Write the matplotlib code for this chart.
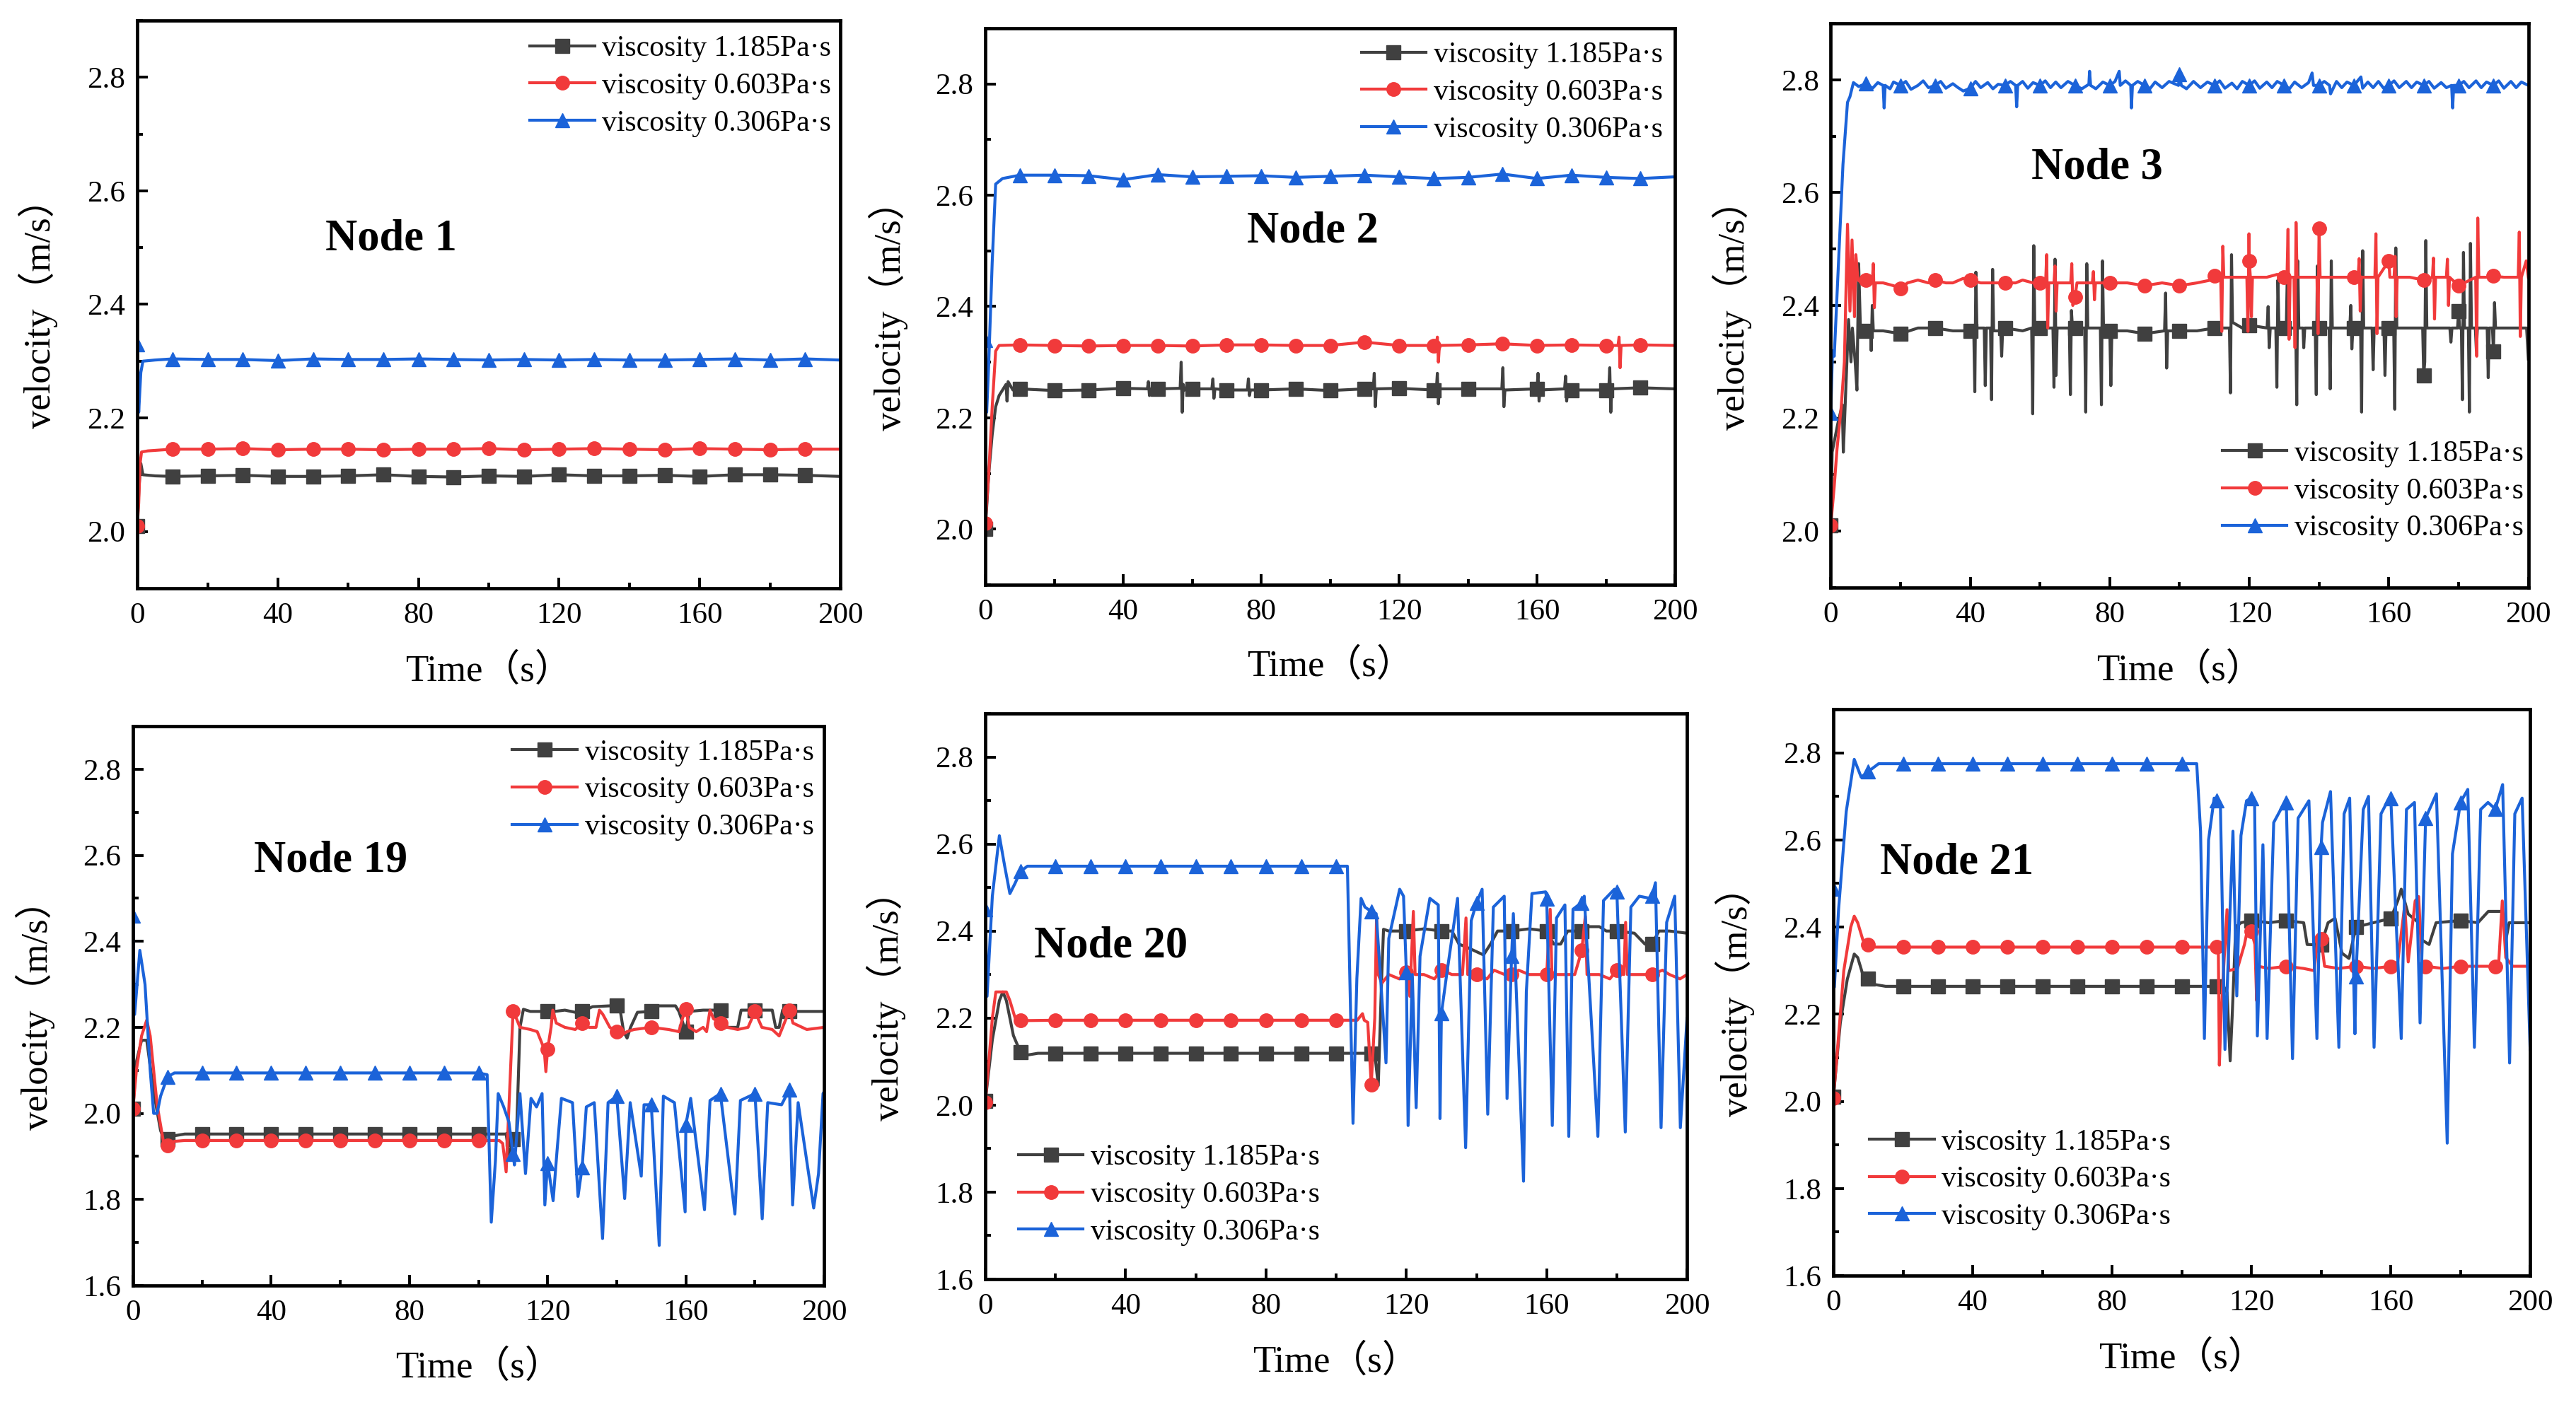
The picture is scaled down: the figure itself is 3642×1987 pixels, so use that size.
import numpy as np
import matplotlib
matplotlib.use('Agg')
from matplotlib import pyplot as plt
from matplotlib.ticker import MultipleLocator, FormatStrFormatter

plt.rcParams['font.family'] = ['Liberation Serif', 'Noto Sans CJK SC']
plt.rcParams['mathtext.default'] = 'regular'

#%% Data (time s, velocity m/s)

labels = ['viscosity 1.185Pa·s', 'viscosity 0.603Pa·s', 'viscosity 0.306Pa·s']
node_names = ['Node 1', 'Node 2', 'Node 3', 'Node 19', 'Node 20', 'Node 21']

# Node 1
n1_black = [(0, 2.01), (0.5, 2.08), (1, 2.12), (1.6, 2.10), (5, 2.098), (10, 2.097), (20, 2.098), (30, 2.099),
            (40, 2.097), (50, 2.097), (60, 2.098), (70, 2.100), (80, 2.097), (90, 2.096), (100, 2.098),
            (110, 2.097), (120, 2.100), (130, 2.098), (140, 2.098), (150, 2.099), (160, 2.097), (170, 2.100),
            (180, 2.100), (190, 2.099), (200, 2.097)]
n1_red = [(0, 2.01), (0.4, 2.05), (0.8, 2.12), (1.2, 2.14), (3, 2.142), (10, 2.145), (20, 2.145), (30, 2.146),
          (40, 2.144), (50, 2.145), (60, 2.145), (70, 2.144), (80, 2.145), (90, 2.145), (100, 2.146),
          (110, 2.144), (120, 2.145), (130, 2.146), (140, 2.145), (150, 2.144), (160, 2.146), (170, 2.145),
          (180, 2.144), (190, 2.145), (200, 2.145)]
n1_blue = [(0, 2.33), (0.4, 2.21), (1, 2.28), (1.6, 2.30), (5, 2.302), (10, 2.304), (20, 2.303), (30, 2.303),
           (40, 2.301), (50, 2.304), (60, 2.303), (70, 2.303), (80, 2.304), (90, 2.303), (100, 2.302),
           (110, 2.303), (120, 2.302), (130, 2.303), (140, 2.302), (150, 2.302), (160, 2.303), (170, 2.304),
           (180, 2.302), (190, 2.304), (200, 2.302)]

# Node 2
n2_black = [(0, 2.0), (1, 2.10), (2, 2.17), (3, 2.22), (4, 2.24), (5, 2.25), (6, 2.26), (6.3, 2.23), (6.6, 2.265),
            (8, 2.25), (10, 2.252), (20, 2.249), (30, 2.250), (40, 2.253), (47, 2.252), (47.3, 2.265),
            (47.6, 2.24), (48, 2.252), (50, 2.252), (56.5, 2.253), (56.8, 2.30), (57.1, 2.21), (57.4, 2.26),
            (57.8, 2.25), (60, 2.252), (65.7, 2.252), (66, 2.27), (66.3, 2.235), (66.6, 2.252), (70, 2.25),
            (76, 2.25), (76.3, 2.27), (76.6, 2.24), (76.9, 2.25), (80, 2.25), (90, 2.252), (100, 2.249),
            (110, 2.252), (112.5, 2.252), (112.8, 2.28), (113.1, 2.22), (113.4, 2.252), (120, 2.253),
            (130, 2.25), (130.8, 2.25), (131.1, 2.28), (131.4, 2.225), (131.7, 2.252), (140, 2.252),
            (149.8, 2.252), (150.1, 2.29), (150.4, 2.22), (150.7, 2.25), (160, 2.252), (160.3, 2.28),
            (160.6, 2.23), (160.9, 2.25), (168, 2.252), (168.3, 2.275), (168.6, 2.23), (168.9, 2.25),
            (170, 2.25), (180, 2.25), (180.8, 2.25), (181.1, 2.29), (181.4, 2.21), (181.7, 2.252),
            (190, 2.254), (200, 2.252)]
n2_red = [(0, 2.01), (1, 2.10), (2, 2.22), (3, 2.32), (4, 2.33), (10, 2.331), (20, 2.33), (30, 2.329), (40, 2.33),
          (50, 2.33), (60, 2.329), (70, 2.331), (80, 2.331), (90, 2.33), (100, 2.33), (110, 2.336), (120, 2.33),
          (130, 2.33), (130.8, 2.33), (131.1, 2.345), (131.4, 2.30), (131.7, 2.33), (140, 2.331),
          (150, 2.333), (160, 2.33), (170, 2.331), (180, 2.33), (183.5, 2.33), (183.8, 2.345),
          (184.1, 2.29), (184.4, 2.33), (190, 2.331), (200, 2.33)]
n2_blue = [(0, 2.34), (0.4, 2.21), (1, 2.30), (2, 2.48), (3, 2.62), (5, 2.63), (10, 2.636), (20, 2.636),
           (30, 2.635), (40, 2.628), (50, 2.637), (60, 2.633), (70, 2.634), (80, 2.635), (90, 2.632),
           (100, 2.634), (110, 2.636), (120, 2.633), (130, 2.630), (140, 2.632), (150, 2.638), (160, 2.630),
           (170, 2.636), (180, 2.632), (190, 2.630), (200, 2.633)]

# Node 3
n3_black = [(0, 2.01), (0.4, 2.14), (2, 2.19), (3.3, 2.224), (3.6, 2.14), (5.1, 2.375), (5.8, 2.30), (6.2, 2.36),
            (7.0, 2.30), (7.5, 2.25), (8.0, 2.474), (8.5, 2.36), (10, 2.355), (11.4, 2.355), (11.6, 2.32),
            (11.9, 2.40), (12.2, 2.355), (15, 2.355), (20, 2.35), (25, 2.36), (30, 2.36), (35, 2.355),
            (40, 2.355), (41.0, 2.355), (41.3, 2.247), (41.6, 2.459), (41.9, 2.36), (44.0, 2.36),
            (44.3, 2.258), (44.6, 2.36), (45.8, 2.36), (46.1, 2.233), (46.4, 2.464), (46.7, 2.355),
            (48.7, 2.355), (49, 2.31), (49.3, 2.36), (50, 2.36), (55, 2.355), (57.6, 2.36), (57.9, 2.208),
            (58.2, 2.506), (58.5, 2.36), (60, 2.36), (63.7, 2.36), (64.0, 2.255), (64.3, 2.482),
            (64.6, 2.276), (64.9, 2.36), (68.4, 2.36), (68.7, 2.242), (69.0, 2.391), (69.3, 2.36), (70, 2.36),
            (72.8, 2.36), (73.1, 2.211), (73.4, 2.474), (73.7, 2.36), (77.3, 2.36), (77.6, 2.224),
            (77.9, 2.479), (78.2, 2.36), (80, 2.355), (80.3, 2.258), (80.6, 2.355), (85, 2.355), (90, 2.35),
            (95.7, 2.355), (96, 2.422), (96.3, 2.289), (96.6, 2.355), (100, 2.355), (105, 2.355), (110, 2.36),
            (114.3, 2.36), (114.6, 2.245), (114.9, 2.49), (115.2, 2.37), (118, 2.36), (120, 2.365),
            (125.1, 2.36), (125.4, 2.398), (125.7, 2.325), (126, 2.36), (127.6, 2.36), (127.9, 2.255),
            (128.2, 2.445), (128.5, 2.36), (130, 2.36), (130.6, 2.36), (130.9, 2.459), (131.2, 2.36),
            (133.3, 2.36), (133.6, 2.224), (133.9, 2.479), (134.2, 2.36), (135.4, 2.36), (135.6, 2.325),
            (135.9, 2.36), (138.9, 2.36), (139.2, 2.242), (139.5, 2.47), (139.8, 2.36), (140, 2.36),
            (142.9, 2.36), (143.2, 2.252), (143.5, 2.479), (143.8, 2.36), (148.8, 2.36), (149.1, 2.40),
            (149.4, 2.323), (149.7, 2.36), (150, 2.36), (151.9, 2.36), (152.2, 2.211), (152.5, 2.497),
            (152.8, 2.36), (155.2, 2.36), (155.5, 2.286), (155.8, 2.36), (158.6, 2.36), (158.9, 2.276),
            (159.2, 2.36), (160, 2.36), (161.4, 2.36), (161.7, 2.216), (162.0, 2.502), (162.3, 2.36),
            (168, 2.36), (169.7, 2.36), (170, 2.276), (170.3, 2.30), (170.6, 2.515), (170.9, 2.36),
            (177.5, 2.36), (177.8, 2.335), (178.1, 2.36), (179.7, 2.36), (180, 2.39), (180.3, 2.36),
            (180.8, 2.36), (181.1, 2.233), (181.4, 2.494), (181.7, 2.36), (182.8, 2.36), (183.1, 2.211),
            (183.4, 2.51), (183.7, 2.36), (184.8, 2.36), (185.1, 2.32), (185.4, 2.36), (188.2, 2.36),
            (188.5, 2.272), (188.8, 2.36), (189.7, 2.36), (190, 2.318), (190.3, 2.405), (190.6, 2.36),
            (195, 2.36), (199.5, 2.36), (200, 2.305)]
n3_red = [(0, 2.01), (1, 2.08), (1.8, 2.146), (3, 2.22), (3.9, 2.30), (4.8, 2.544), (5.5, 2.39), (6.1, 2.516),
          (6.8, 2.38), (7.2, 2.49), (7.8, 2.445), (9, 2.44), (10, 2.445), (11.9, 2.44), (12.2, 2.474),
          (12.5, 2.396), (12.8, 2.44), (15, 2.44), (18, 2.435), (20, 2.43), (22, 2.44), (25, 2.445),
          (28, 2.44), (30, 2.445), (33, 2.44), (35, 2.44), (38, 2.448), (40, 2.445), (43, 2.44), (45, 2.44),
          (48, 2.44), (50, 2.44), (53, 2.44), (55, 2.445), (58, 2.44), (60, 2.44), (61.6, 2.44), (61.9, 2.49),
          (62.2, 2.36), (62.5, 2.44), (64, 2.44), (64.3, 2.47), (64.6, 2.39), (64.9, 2.44), (67, 2.44),
          (68.8, 2.44), (69.1, 2.474), (69.4, 2.40), (70, 2.415), (70.6, 2.44), (73, 2.44), (75, 2.44),
          (75.3, 2.46), (75.6, 2.41), (75.9, 2.44), (80, 2.44), (85, 2.44), (90, 2.435), (95, 2.44),
          (100, 2.435), (105, 2.44), (109, 2.445), (110, 2.452), (111, 2.45), (111.8, 2.45), (112.1, 2.354),
          (112.4, 2.505), (112.7, 2.45), (116, 2.45), (119.3, 2.45), (119.6, 2.354), (119.9, 2.527),
          (120, 2.479), (120.3, 2.45), (120.6, 2.38), (120.9, 2.45), (125, 2.45), (128, 2.455), (130, 2.45),
          (130.8, 2.45), (131.1, 2.535), (131.4, 2.34), (131.7, 2.45), (132.8, 2.45), (133.1, 2.325),
          (133.4, 2.547), (133.7, 2.45), (136, 2.45), (139.4, 2.45), (139.7, 2.35), (140, 2.537),
          (140.3, 2.45), (144, 2.45), (148, 2.45), (150, 2.45), (151.2, 2.45), (151.5, 2.483), (151.8, 2.39),
          (152.1, 2.45), (156, 2.45), (156.3, 2.527), (156.6, 2.35), (156.9, 2.45), (160, 2.479),
          (160.3, 2.45), (161.5, 2.45), (161.8, 2.487), (162.1, 2.38), (162.4, 2.45), (166, 2.45),
          (170, 2.445), (172.5, 2.45), (172.8, 2.484), (173.1, 2.376), (173.4, 2.45), (176.5, 2.45),
          (176.8, 2.482), (177.1, 2.40), (177.4, 2.45), (180, 2.435), (184.9, 2.45), (185.2, 2.31),
          (185.5, 2.555), (185.8, 2.45), (189, 2.45), (190, 2.452), (193, 2.45), (197.1, 2.45), (197.4, 2.53),
          (197.7, 2.345), (198, 2.45), (199.4, 2.479), (200, 2.45)]
n3_blue = [(0, 2.21), (0.5, 2.32), (1, 2.31), (2.4, 2.50), (3.5, 2.65), (4.8, 2.76), (5.5, 2.77), (6.5, 2.795),
           (8, 2.788), (10, 2.793), (12, 2.785), (13.5, 2.795), (15, 2.79), (15.3, 2.75), (15.6, 2.79),
           (17, 2.784), (18, 2.796), (20, 2.79), (21.5, 2.797), (23, 2.783), (25, 2.79), (26.5, 2.798),
           (28, 2.786), (30, 2.79), (31.5, 2.797), (33, 2.785), (35, 2.793), (36.5, 2.786), (38, 2.78),
           (40, 2.785), (41.5, 2.797), (43, 2.786), (45, 2.795), (46.5, 2.784), (48, 2.792), (50, 2.79),
           (51.5, 2.797), (53, 2.79), (53.3, 2.752), (53.6, 2.79), (55, 2.797), (56.5, 2.785), (58, 2.795),
           (60, 2.79), (61.5, 2.798), (63, 2.786), (64.5, 2.796), (66, 2.786), (68, 2.797), (70, 2.79),
           (72, 2.784), (74, 2.792), (74.2, 2.815), (74.5, 2.79), (76, 2.784), (78, 2.796), (80, 2.79),
           (81.5, 2.797), (82.7, 2.815), (83, 2.79), (84.5, 2.798), (86, 2.79), (86.2, 2.75), (86.5, 2.79),
           (88, 2.797), (90, 2.79), (91.5, 2.784), (93, 2.796), (95, 2.786), (97, 2.797), (99.7, 2.79),
           (100, 2.81), (100.5, 2.79), (102, 2.784), (104, 2.797), (106, 2.786), (108, 2.796), (110, 2.79),
           (111.5, 2.798), (113, 2.785), (115, 2.794), (116.5, 2.784), (118, 2.797), (120, 2.79),
           (121.5, 2.798), (123, 2.785), (125, 2.796), (126.5, 2.786), (128, 2.797), (130, 2.79),
           (131.5, 2.784), (133, 2.796), (135, 2.786), (137, 2.795), (138, 2.812), (138.4, 2.79),
           (140, 2.79), (141.5, 2.797), (143, 2.79), (143.3, 2.775), (145, 2.797), (146.5, 2.786),
           (148, 2.796), (150, 2.79), (152, 2.805), (152.5, 2.785), (154, 2.796), (155.5, 2.786),
           (157, 2.797), (158.5, 2.785), (160, 2.79), (161.5, 2.798), (163, 2.786), (165, 2.797),
           (166.5, 2.786), (168, 2.796), (170, 2.79), (171.5, 2.797), (173, 2.785), (175, 2.795),
           (176.5, 2.786), (178, 2.79), (178.3, 2.75), (178.6, 2.79), (180, 2.79), (181.5, 2.797),
           (183, 2.786), (185, 2.798), (186.5, 2.786), (188, 2.796), (190, 2.79), (191.5, 2.798),
           (193, 2.785), (195, 2.797), (196.5, 2.786), (198, 2.796), (200, 2.79)]

# Node 19
n19_black = [(0, 2.01), (1, 2.12), (2.5, 2.17), (4, 2.17), (6, 2.05), (8, 1.96), (9, 1.94), (10, 1.94),
             (12, 1.948), (15, 1.952), (20, 1.952), (30, 1.952), (40, 1.952), (50, 1.952), (60, 1.952),
             (70, 1.952), (80, 1.952), (90, 1.952), (100, 1.952), (108, 1.952), (109, 1.90), (110, 1.94),
             (111, 1.95), (112, 2.20), (113, 2.242), (115, 2.237), (120, 2.237), (122, 2.237), (125, 2.24),
             (128, 2.235), (130, 2.237), (133, 2.248), (138, 2.25), (140, 2.25), (141, 2.24), (142, 2.19),
             (143, 2.175), (144, 2.20), (146, 2.235), (150, 2.237), (151, 2.25), (157, 2.25), (158, 2.237),
             (160, 2.19), (161, 2.237), (165, 2.24), (170, 2.24), (172, 2.20), (175, 2.20), (176, 2.24),
             (180, 2.24), (185, 2.24), (186, 2.20), (187, 2.20), (188, 2.24), (190, 2.237), (200, 2.237)]
n19_red = [(0, 2.01), (1, 2.10), (2.5, 2.18), (4, 2.217), (5, 2.18), (7, 2.02), (9, 1.926), (10, 1.925),
           (12, 1.935), (15, 1.937), (20, 1.937), (30, 1.937), (40, 1.937), (50, 1.937), (60, 1.937),
           (70, 1.937), (80, 1.937), (90, 1.937), (100, 1.937), (106, 1.937), (107, 1.93), (108, 1.864),
           (109, 2.05), (110, 2.237), (111, 2.22), (112, 2.20), (115, 2.195), (117, 2.19), (118, 2.17),
           (119, 2.15), (119.5, 2.097), (120, 2.149), (121, 2.20), (121.5, 2.24), (122.5, 2.21), (125, 2.20),
           (128, 2.195), (130, 2.21), (132, 2.20), (134, 2.20), (135, 2.24), (136, 2.23), (138, 2.20),
           (140, 2.19), (141, 2.18), (143, 2.19), (145, 2.195), (150, 2.20), (155, 2.195), (158, 2.19),
           (159, 2.22), (160, 2.243), (161, 2.20), (163, 2.19), (165, 2.20), (166, 2.19), (167, 2.24),
           (168, 2.22), (170, 2.21), (172, 2.20), (175, 2.195), (178, 2.20), (180, 2.237), (182, 2.20),
           (185, 2.195), (187, 2.18), (188, 2.20), (190, 2.24), (191, 2.21), (195, 2.195), (200, 2.20)]
n19_blue = [(0, 2.46), (0.5, 2.23), (2, 2.379), (3.5, 2.30), (5, 2.10), (6, 2.0), (7, 2.0), (8, 2.04),
            (10, 2.085), (12, 2.094), (15, 2.094), (20, 2.094), (30, 2.094), (40, 2.094), (50, 2.094),
            (60, 2.094), (70, 2.094), (80, 2.094), (90, 2.094), (100, 2.094), (102.5, 2.09), (103.7, 1.747),
            (104.9, 1.89), (105.7, 2.046), (107.3, 2.015), (108.8, 1.98), (110, 1.906), (110.4, 1.88),
            (112, 2.046), (113.6, 1.86), (115.2, 2.035), (116.8, 2.015), (118.4, 2.046), (119.2, 1.787),
            (120, 1.885), (121.6, 1.797), (122.7, 1.91), (124, 2.035), (127.2, 2.025), (128.8, 1.807),
            (130, 1.875), (131.2, 2.015), (133.5, 2.025), (135.9, 1.709), (137.5, 2.025), (140, 2.04),
            (142.3, 1.802), (143.9, 2.025), (147.1, 1.854), (147.9, 2.02), (150, 2.02), (152.3, 1.693),
            (153.5, 2.04), (156.7, 2.025), (159.8, 1.771), (160, 1.973), (161.4, 2.035), (165.4, 1.776),
            (167, 2.03), (170, 2.046), (174.2, 1.766), (175.8, 2.03), (180, 2.046), (182.1, 1.755),
            (183.7, 2.025), (187.7, 2.02), (190, 2.056), (190.9, 1.787), (192.5, 2.025), (197, 1.78),
            (198.4, 1.86), (199.7, 2.046), (200, 2.05)]

# Node 20
n20_black = [(0, 2.01), (2, 2.15), (4, 2.24), (5, 2.26), (6, 2.24), (8, 2.16), (10, 2.122), (12, 2.115),
             (15, 2.119), (20, 2.119), (30, 2.119), (40, 2.119), (50, 2.119), (60, 2.119), (70, 2.119),
             (80, 2.119), (90, 2.119), (100, 2.119), (110, 2.119), (111, 2.118), (112, 2.045), (113, 2.30),
             (113.5, 2.404), (115, 2.40), (120, 2.40), (125, 2.405), (130, 2.40), (133, 2.40), (135, 2.37),
             (138, 2.36), (142, 2.345), (144, 2.37), (146, 2.40), (150, 2.40), (155, 2.405), (160, 2.40),
             (162, 2.37), (164, 2.37), (166, 2.40), (170, 2.40), (172, 2.41), (175, 2.41), (177, 2.40),
             (180, 2.40), (185, 2.395), (188, 2.37), (190, 2.37), (192, 2.40), (195, 2.40), (200, 2.395)]
n20_red = [(0, 2.007), (1, 2.10), (2, 2.20), (3, 2.26), (6, 2.26), (7, 2.24), (8.5, 2.20), (10, 2.194),
           (20, 2.195), (30, 2.195), (40, 2.195), (50, 2.195), (60, 2.195), (70, 2.195), (80, 2.195),
           (90, 2.195), (100, 2.195), (106, 2.195), (107.5, 2.21), (108, 2.195), (109, 2.19), (110, 2.047),
           (111, 2.20), (111.5, 2.43), (112, 2.30), (113, 2.28), (115, 2.30), (118, 2.29), (120, 2.306),
           (121, 2.25), (122, 2.445), (122.5, 2.30), (125, 2.30), (128, 2.29), (130, 2.31), (133, 2.30),
           (136, 2.30), (137, 2.43), (137.5, 2.30), (140, 2.30), (143, 2.29), (145, 2.31), (148, 2.30),
           (150, 2.30), (152, 2.31), (155, 2.30), (158, 2.30), (160, 2.30), (161, 2.45), (161.5, 2.30),
           (165, 2.30), (168, 2.30), (170, 2.355), (171, 2.434), (171.5, 2.30), (175, 2.30), (178, 2.29),
           (180, 2.31), (182, 2.30), (182.5, 2.42), (183, 2.30), (185, 2.30), (188, 2.30), (190, 2.30),
           (193, 2.31), (195, 2.30), (198, 2.29), (200, 2.30)]
n20_blue = [(0, 2.45), (0.5, 2.25), (2, 2.48), (4, 2.619), (5.5, 2.55), (7, 2.486), (8.5, 2.51), (10, 2.537),
            (12, 2.549), (20, 2.549), (30, 2.549), (40, 2.549), (50, 2.549), (60, 2.549), (70, 2.549),
            (80, 2.549), (90, 2.549), (100, 2.549), (103.2, 2.549), (104.8, 1.958), (105.9, 2.291),
            (107.1, 2.475), (108.2, 2.455), (110, 2.445), (111.4, 2.44), (112.6, 2.30), (114.2, 2.097),
            (115, 2.383), (118.1, 2.496), (119.2, 2.48), (120, 2.306), (120.5, 1.953), (121.7, 2.30),
            (122.8, 1.994), (123.9, 2.342), (126.7, 2.475), (129.1, 2.46), (129.6, 1.969), (130, 2.211),
            (131.5, 2.30), (134.6, 2.475), (136.9, 1.902), (138.5, 2.424), (140, 2.465), (141.6, 2.496),
            (143.2, 1.979), (144.8, 2.455), (147.9, 2.48), (148.7, 2.015), (150, 2.342), (150.5, 2.44),
            (153.4, 1.825), (154.2, 2.26), (155.8, 2.486), (159.7, 2.49), (160, 2.475), (161.6, 1.953),
            (162.8, 2.43), (165.2, 2.46), (166.3, 1.928), (167.5, 2.45), (169.1, 2.46), (170, 2.465),
            (170.7, 2.48), (174.6, 1.928), (176.2, 2.47), (179.3, 2.496), (180, 2.49), (182.4, 1.938),
            (184, 2.455), (186.4, 2.48), (189.5, 2.475), (190, 2.48), (191, 2.511), (192.6, 1.948),
            (194.2, 2.42), (196.5, 2.48), (198.1, 1.948), (200, 2.199)]

# Node 21
n21_black = [(0, 2.01), (2, 2.18), (4, 2.28), (6, 2.338), (7, 2.33), (8.5, 2.29), (10, 2.282), (12, 2.268),
             (15, 2.264), (20, 2.264), (30, 2.264), (40, 2.264), (50, 2.264), (60, 2.264), (70, 2.264),
             (80, 2.264), (90, 2.264), (100, 2.264), (110, 2.264), (112, 2.264), (113, 2.25), (113.9, 2.093),
             (114.5, 2.20), (115.5, 2.40), (117, 2.41), (120, 2.415), (125, 2.41), (130, 2.415), (135, 2.41),
             (136, 2.36), (140, 2.359), (142, 2.41), (144, 2.42), (146, 2.34), (148, 2.328), (150, 2.40),
             (155, 2.41), (160, 2.42), (162, 2.46), (163, 2.487), (165, 2.43), (168, 2.41), (169, 2.37),
             (171, 2.36), (173, 2.41), (180, 2.415), (185, 2.41), (188, 2.436), (192, 2.436), (193, 2.37),
             (194, 2.41), (200, 2.41)]
n21_red = [(0, 2.007), (1, 2.10), (3, 2.30), (5, 2.40), (6, 2.425), (7, 2.41), (8.5, 2.37), (10, 2.359),
           (12, 2.354), (20, 2.354), (30, 2.354), (40, 2.354), (50, 2.354), (60, 2.354), (70, 2.354),
           (80, 2.354), (90, 2.354), (100, 2.354), (110, 2.354), (110.5, 2.35), (110.8, 2.083), (111.3, 2.20),
           (112, 2.303), (113, 2.44), (113.5, 2.30), (116, 2.305), (118, 2.36), (119, 2.40), (120, 2.39),
           (121, 2.36), (121.5, 2.231), (122, 2.31), (125, 2.305), (130, 2.31), (135, 2.305), (138, 2.30),
           (139, 2.37), (140, 2.372), (141, 2.31), (145, 2.305), (150, 2.31), (155, 2.305), (160, 2.31),
           (162, 2.32), (164, 2.45), (165, 2.32), (167, 2.46), (168, 2.47), (169, 2.31), (170, 2.31),
           (175, 2.305), (180, 2.31), (185, 2.31), (190, 2.31), (191, 2.32), (192, 2.46), (193, 2.33),
           (195, 2.31), (200, 2.31)]
n21_blue = [(0, 2.487), (0.3, 2.262), (1.5, 2.44), (3.7, 2.665), (6, 2.785), (8, 2.744), (10, 2.757),
            (13, 2.775), (20, 2.775), (30, 2.775), (40, 2.775), (50, 2.775), (60, 2.775), (70, 2.775),
            (80, 2.775), (90, 2.775), (100, 2.775), (104.3, 2.775), (105.4, 2.62), (106.5, 2.144),
            (107.7, 2.60), (109.3, 2.696), (110, 2.69), (111.1, 2.68), (112.4, 2.119), (114.7, 2.62),
            (115.8, 2.242), (117, 2.61), (118.6, 2.69), (120, 2.696), (120.9, 2.69), (121.7, 2.15),
            (123.3, 2.589), (124.5, 2.144), (126.4, 2.64), (129.5, 2.686), (130, 2.686), (131.8, 2.098),
            (133.4, 2.65), (136.5, 2.69), (138.8, 2.144), (140, 2.584), (140.4, 2.64), (142.7, 2.711),
            (145.1, 2.124), (146.6, 2.66), (148.2, 2.696), (149.7, 2.155), (150, 2.287), (152.1, 2.67),
            (153.6, 2.70), (155.2, 2.124), (157.2, 2.66), (159.8, 2.70), (160, 2.696), (163, 2.144),
            (164.5, 2.67), (166.8, 2.686), (168.4, 2.18), (170, 2.65), (173.1, 2.706), (176.2, 1.904),
            (177.7, 2.568), (180, 2.686), (182.1, 2.716), (184, 2.124), (185.8, 2.67), (187.9, 2.686),
            (190, 2.671), (192.1, 2.727), (194.1, 2.088), (195.6, 2.66), (197.7, 2.696), (200, 2.119)]

series = [[n1_black, n1_red, n1_blue], [n2_black, n2_red, n2_blue], [n3_black, n3_red, n3_blue],
          [n19_black, n19_red, n19_blue], [n20_black, n20_red, n20_blue], [n21_black, n21_red, n21_blue]]

#%% Layout / style

colors = ['#404040', '#f13a3b', '#1b63d9']
markers = ['s', 'o', '^']

axes_pos = [[0.0533, 0.5813, 0.2729, 0.4041],
            [0.3825, 0.5838, 0.2677, 0.3961],
            [0.7107, 0.5818, 0.2708, 0.4016],
            [0.0516, 0.0851, 0.2683, 0.3980],
            [0.3825, 0.0896, 0.2724, 0.4026],
            [0.7117, 0.0921, 0.2705, 0.4031]]
ylims = [(1.9, 2.9)] * 3 + [(1.6, 2.9)] * 3
node_xy = [(0.361, 0.615), (0.475, 0.634), (0.382, 0.744), (0.286, 0.759), (0.179, 0.588), (0.177, 0.729)]
leg_loc = ['upper right', 'upper right', 'lower right', 'upper right', 'lower left', 'lower left']
leg_anchor = [(0.987, 0.974), (0.982, 0.976), (0.993, 0.081), (0.985, 0.977), (0.047, 0.059), (0.052, 0.080)]

fig = plt.figure(figsize=(36.42, 19.87), dpi=100)

for k in range(6):
    ax = fig.add_axes(axes_pos[k])
    for j in range(3):
        t = np.array([p[0] for p in series[k][j]])
        v = np.array([p[1] for p in series[k][j]])
        mk = [i for i, x in enumerate(t) if abs(x - round(x / 10) * 10) < 1e-9 and x < 195]
        ax.plot(t, v, color=colors[j], lw=3.0, marker=markers[j], markersize=14,
                markevery=mk, label=labels[j])
    ax.set_xlim(0, 200)
    ax.set_ylim(*ylims[k])
    ax.xaxis.set_major_locator(MultipleLocator(40))
    ax.xaxis.set_minor_locator(MultipleLocator(20))
    ax.yaxis.set_major_locator(MultipleLocator(0.2))
    ax.yaxis.set_minor_locator(MultipleLocator(0.1))
    ax.yaxis.set_major_formatter(FormatStrFormatter('%.1f'))
    ax.tick_params(which='both', direction='in', width=2.8, labelsize=31)
    ax.tick_params(which='major', length=11)
    ax.tick_params(which='minor', length=6)
    ax.tick_params(axis='x', pad=14)
    ax.tick_params(axis='y', pad=12)
    for s in ax.spines.values():
        s.set_linewidth(3.4)

    ax.set_xlabel('Time（s）', fontsize=38, va='center')
    ax.set_ylabel('velocity（m/s）', fontsize=38, va='center')
    ax.xaxis.set_label_coords(0.5, -0.146)
    ax.yaxis.set_label_coords(-0.141, 0.5)

    ax.text(node_xy[k][0], node_xy[k][1], node_names[k], transform=ax.transAxes,
            fontsize=45, fontweight='bold', ha='center', va='center')

    ax.legend(loc=leg_loc[k], bbox_to_anchor=leg_anchor[k], frameon=False, fontsize=30,
              borderpad=0, borderaxespad=0, handlelength=2.2, handletextpad=0.25, labelspacing=0.34)

fig.savefig('out.png', dpi=100)
